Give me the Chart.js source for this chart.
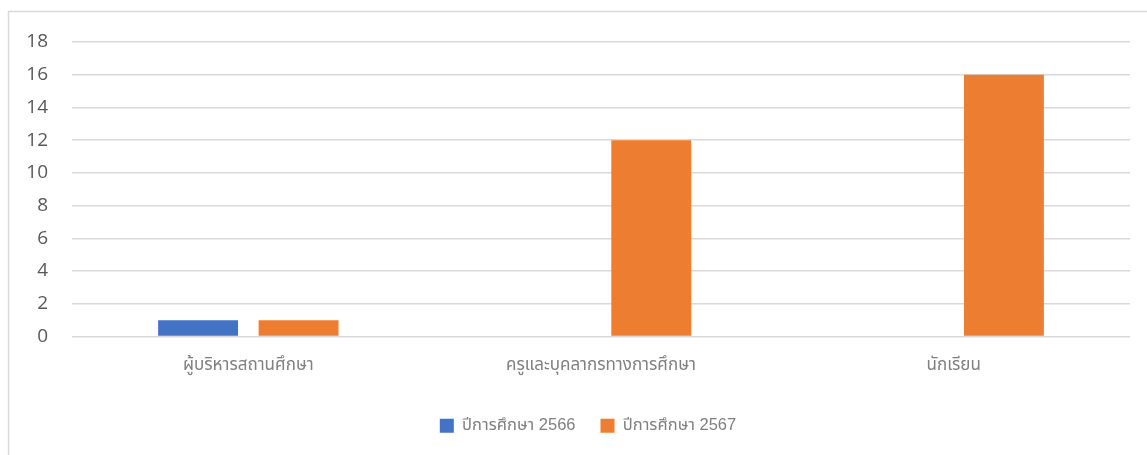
<!DOCTYPE html>
<html>
<head>
<meta charset="utf-8">
<script src="https://cdn.jsdelivr.net/npm/chart.js@4/dist/chart.umd.min.js"></script>
<style>
html,body{margin:0;padding:0;background:#fff;overflow:hidden;}
#c{position:absolute;left:0;top:0;}
</style>
</head>
<body>
<canvas id="c" width="1147" height="455"></canvas>
<script>
const categories = ["ผู้บริหารสถานศึกษา", "ครูและบุคลากรทางการศึกษา", "นักเรียน"];
const series2566 = [1, 0, 0];
const series2567 = [1, 12, 16];
const seriesNames = ["ปีการศึกษา 2566", "ปีการศึกษา 2567"];
const yTicks = {min: 0, max: 18, step: 2};

const borderPlugin = {
  id: 'outerBorder',
  beforeDraw(chart) {
    const ctx = chart.ctx;
    ctx.save();
    ctx.strokeStyle = '#d9d9d9';
    ctx.lineWidth = 1.5;
    ctx.strokeRect(8.5, 11.5, 2000, 1000);
    ctx.restore();
  },
  afterLayout(chart) {
    if (chart.legend) { chart.legend.left = 46; }
  }
};

const numFont = "'Open Sans', 'Noto Sans', sans-serif";
const thaiFont = "'Liberation Sans', 'Noto Sans Thai', 'Noto Sans Thai UI', sans-serif";

new Chart(document.getElementById('c'), {
  type: 'bar',
  data: {
    labels: categories,
    datasets: [
      {label: seriesNames[0], data: series2566, backgroundColor: '#4472C4', categoryPercentage: 0.57, barPercentage: 0.795},
      {label: seriesNames[1], data: series2567, backgroundColor: '#ED7D31', categoryPercentage: 0.57, barPercentage: 0.795}
    ]
  },
  options: {
    responsive: false,
    animation: false,
    devicePixelRatio: 1,
    layout: {padding: {left: 0, right: 17, top: 42, bottom: 11}},
    plugins: {
      legend: {
        position: 'bottom',
        labels: {
          boxWidth: 14, boxHeight: 14, padding: 25,
          color: '#7f7f7f',
          font: {family: thaiFont, size: 16.5}
        }
      },
      tooltip: {enabled: false}
    },
    scales: {
      x: {
        grid: {display: false, drawTicks: false},
        border: {display: false},
        ticks: {color: '#7f7f7f', padding: 19, font: {family: thaiFont, size: 17}},
        afterFit(s) { s.height = 56; }
      },
      y: {
        min: yTicks.min, max: yTicks.max,
        grid: {color: '#d9d9d9', lineWidth: 1.5, drawTicks: false},
        border: {display: false},
        ticks: {stepSize: yTicks.step, color: '#595959', padding: 24, font: {family: numFont, size: 19}},
        afterFit(s) { s.width = 72; }
      }
    }
  },
  plugins: [borderPlugin]
});
</script>
</body>
</html>
